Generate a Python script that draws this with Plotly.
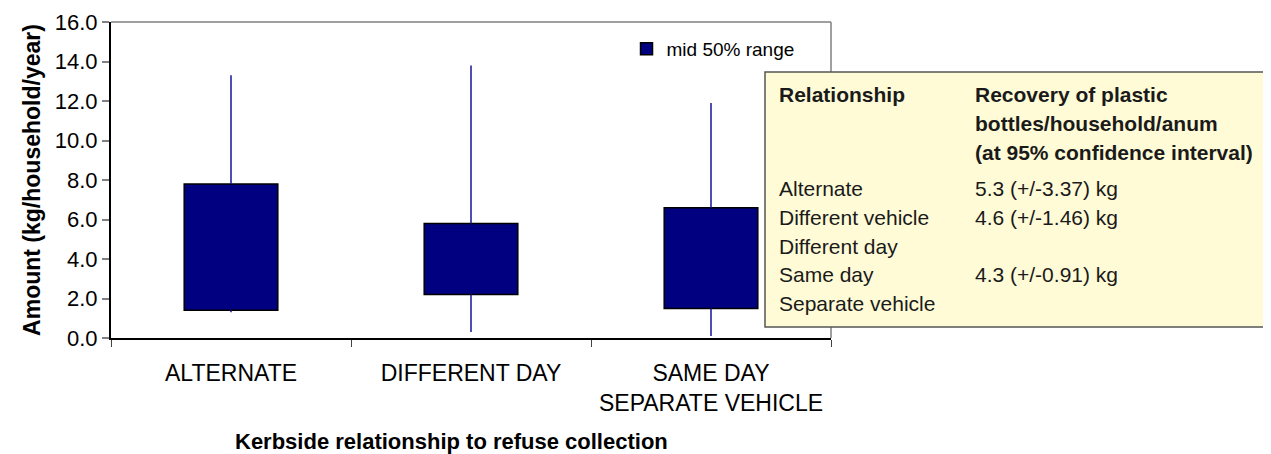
import plotly.graph_objects as go

categories = ["ALTERNATE", "DIFFERENT DAY", "SAME DAY<br>SEPARATE VEHICLE"]
q1 = [1.4, 2.2, 1.5]
q3 = [7.8, 5.8, 6.6]
whisk_low = [1.3, 0.3, 0.1]
whisk_high = [13.3, 13.8, 11.9]
y_ticks = [0, 2, 4, 6, 8, 10, 12, 14, 16]

x_title = "Kerbside relationship to refuse collection"
y_title = "Amount (kg/household/year)"
table_header_left = "Relationship"
table_header_right = ["Recovery of plastic", "bottles/household/anum", "(at 95% confidence interval)"]
table_rel = ["Alternate", "Different vehicle", "Different day", "Same day", "Separate vehicle"]
table_val = ["5.3 (+/-3.37) kg", "4.6 (+/-1.46) kg", "", "4.3 (+/-0.91) kg", ""]

xs = list(range(len(categories)))
bounds = [-0.5, 0.5, 1.5, 2.5]
FONT = "Liberation Sans, Arial, sans-serif"

fig = go.Figure()

# whiskers (outside the box only)
wx, wy = [], []
for i in xs:
    wx += [i, i, None, i, i, None]
    wy += [whisk_low[i], q1[i], None, q3[i], whisk_high[i], None]
fig.add_trace(go.Scatter(x=wx, y=wy, mode="lines", line=dict(color="#14149a", width=1.5),
                         showlegend=False, hoverinfo="skip"))

fig.add_trace(go.Bar(x=xs, y=[q3[i] - q1[i] for i in xs], base=q1, width=0.39,
                     marker=dict(color="#000080", line=dict(color="#000000", width=1.5)),
                     name="mid 50% range"))

fig.update_layout(
    width=1271, height=454,
    margin=dict(l=103, r=448, t=14, b=124, autoexpand=False),
    paper_bgcolor="white", plot_bgcolor="white",
    font=dict(family=FONT, color="black"),
    showlegend=True,
    legend=dict(x=0.716, y=0.975, xanchor="left", yanchor="top", bgcolor="rgba(0,0,0,0)",
                font=dict(size=19, family=FONT)),
    xaxis=dict(range=[-0.5, 2.5], tickvals=xs, ticktext=categories, automargin=False,
               ticks="outside", ticklen=14, tickcolor="rgba(0,0,0,0)",
               tickfont=dict(size=23, family=FONT),
               showline=True, linecolor="black", linewidth=1.5, showgrid=False, zeroline=False,
               minor=dict(tickmode="array", tickvals=bounds, ticks="outside",
                          ticklen=7, tickcolor="#444", tickwidth=1)),
    xaxis2=dict(range=[-0.5, 2.5], overlaying="x", side="bottom", anchor="y", automargin=False,
                tickvals=bounds, ticktext=["", "", "", ""], ticks="inside", ticklen=7,
                tickcolor="#444", tickwidth=1, showline=False, showgrid=False, zeroline=False),
    yaxis=dict(range=[0, 16], tickvals=y_ticks, tickformat=".1f", automargin=False,
               ticks="outside", ticklen=7, tickcolor="#808080", tickwidth=1.5,
               tickfont=dict(size=22, family=FONT),
               showline=True, linecolor="black", linewidth=2, showgrid=False, zeroline=False,
               title=dict(text="<b>" + y_title + "</b>", font=dict(size=23, family=FONT),
                          standoff=8)),
)

# plot frame top/right (gray)
fig.add_shape(type="line", xref="paper", yref="paper", x0=0, x1=1, y0=1, y1=1,
              line=dict(color="#808080", width=1.5))
fig.add_shape(type="line", xref="paper", yref="paper", x0=1, x1=1, y0=0, y1=1,
              line=dict(color="#808080", width=1.5))

px = lambda X: (X - 111) / 720.0
py = lambda Y: (338 - Y) / 316.0

# x-axis title (offset left of the plot centre, as in the original)
fig.add_annotation(xref="paper", yref="paper", x=px(451), y=py(441), xanchor="center", yanchor="middle",
                   text="<b>" + x_title + "</b>", showarrow=False,
                   font=dict(size=22, family=FONT, color="black"))

# info table box
fig.add_shape(type="rect", xref="paper", yref="paper", x0=px(765), x1=px(1290), y0=py(327), y1=py(72),
              fillcolor="#FFFBD7", line=dict(color="#555555", width=1.5), layer="above")

TF = 21
TC = "#1a1a1a"
fig.add_annotation(xref="paper", yref="paper", x=px(777), y=py(94), xanchor="left", yanchor="middle",
                   text="<b>" + table_header_left + "</b>", showarrow=False,
                   font=dict(size=TF, family=FONT, color=TC))
for k, line in enumerate(table_header_right):
    fig.add_annotation(xref="paper", yref="paper", x=px(973), y=py(94 + k * 29), xanchor="left",
                       yanchor="middle", text="<b>" + line + "</b>", showarrow=False,
                       font=dict(size=TF, family=FONT, color=TC))
for k, (r, v) in enumerate(zip(table_rel, table_val)):
    yc = 189 + k * 28.6
    fig.add_annotation(xref="paper", yref="paper", x=px(777), y=py(yc), xanchor="left", yanchor="middle",
                       text=r, showarrow=False, font=dict(size=TF, family=FONT, color=TC))
    if v:
        fig.add_annotation(xref="paper", yref="paper", x=px(973), y=py(yc), xanchor="left", yanchor="middle",
                           text=v, showarrow=False, font=dict(size=TF, family=FONT, color=TC))

fig.write_html("out.html")
